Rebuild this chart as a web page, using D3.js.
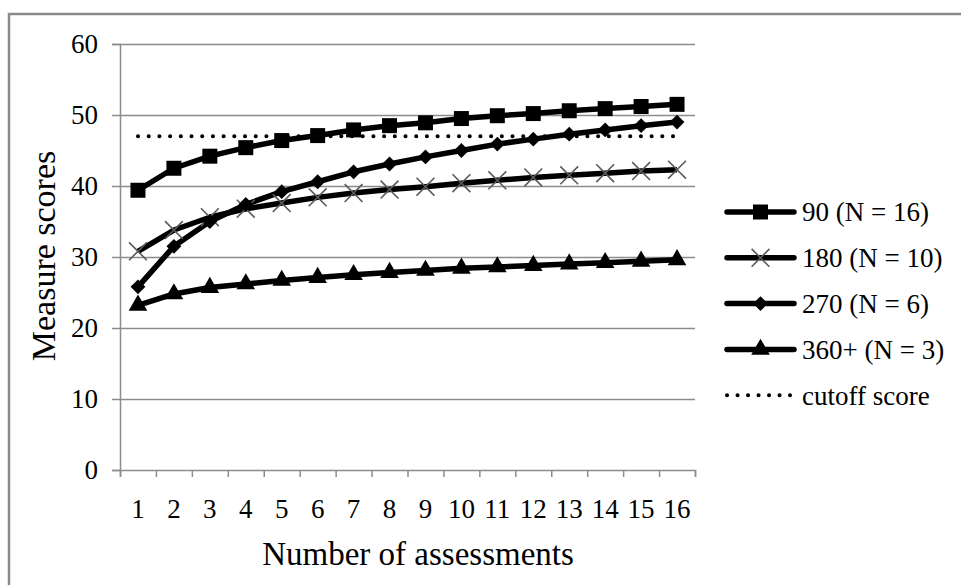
<!DOCTYPE html>
<html>
<head>
<meta charset="utf-8">
<script src="https://cdn.jsdelivr.net/npm/d3@7"></script>
<style>
  html, body { margin: 0; padding: 0; background: #fff; }
  svg { display: block; }
  text { font-family: "Liberation Serif", "Times New Roman", serif; fill: #000; }
</style>
</head>
<body>
<svg id="chart" width="961" height="585"></svg>
<script>
// ---- data ----
const categories = ["1","2","3","4","5","6","7","8","9","10","11","12","13","14","15","16"];
const s90   = [39.4, 42.5, 44.2, 45.4, 46.4, 47.1, 47.9, 48.5, 48.9, 49.5, 49.9, 50.2, 50.6, 50.9, 51.2, 51.5];
const s180  = [30.8, 33.8, 35.6, 36.8, 37.6, 38.4, 39.0, 39.5, 39.9, 40.4, 40.8, 41.2, 41.5, 41.8, 42.1, 42.3];
const s270  = [25.8, 31.5, 35.0, 37.4, 39.2, 40.6, 42.0, 43.1, 44.1, 45.0, 45.9, 46.6, 47.3, 47.9, 48.5, 49.0];
const s360  = [23.2, 24.8, 25.7, 26.2, 26.7, 27.1, 27.5, 27.8, 28.1, 28.4, 28.6, 28.8, 29.0, 29.2, 29.4, 29.6];
const cutoff = [47, 47, 47, 47, 47, 47, 47, 47, 47, 47, 47, 47, 47, 47, 47, 47];
const seriesNames = ["90 (N = 16)", "180 (N = 10)", "270 (N = 6)", "360+ (N = 3)", "cutoff score"];
const yTicks = [0, 10, 20, 30, 40, 50, 60];
const xTitle = "Number of assessments";
const yTitle = "Measure scores";

// ---- layout ----
const svg = d3.select("#chart");
const pL = 120, pR = 695, pT = 44, pB = 470;
const gridColor = "#8c8c8c";
const serif = "'Liberation Serif', 'Times New Roman', serif";

// outer frame
svg.append("rect").attr("x", 9).attr("y", 14).attr("width", 1000).attr("height", 700)
  .attr("fill", "none").attr("stroke", "#8a8a8a").attr("stroke-width", 2.5);

const x = d3.scaleBand().domain(categories).range([pL, pR]).padding(0);
const xEdge = d3.scaleLinear().domain([0, categories.length]).range([pL, pR]);
const y = d3.scaleLinear().domain([0, 60]).range([pB, pT]);

// gridlines
const grid = svg.append("g").attr("transform", `translate(${pL},0)`)
  .call(d3.axisLeft(y).tickValues(yTicks.filter(v => v > 0)).tickSize(-(pR - pL)).tickFormat(""));
grid.select(".domain").remove();
grid.selectAll("line").attr("stroke", gridColor).attr("stroke-width", 1.5);

// y axis
const yAx = svg.append("g").attr("transform", `translate(${pL},0)`)
  .call(d3.axisLeft(y).tickValues(yTicks).tickSize(8).tickPadding(14));
yAx.attr("font-family", serif);
yAx.select(".domain").attr("stroke", gridColor).attr("stroke-width", 1.5);
yAx.selectAll("line").attr("stroke", gridColor).attr("stroke-width", 1.5);
yAx.selectAll("text").attr("font-size", 27).attr("fill", "#000");

// x axis: tick marks at band edges
const xTickAx = svg.append("g").attr("transform", `translate(0,${pB})`)
  .call(d3.axisBottom(xEdge).ticks(categories.length).tickSize(7).tickFormat(""));
xTickAx.select(".domain").attr("stroke", gridColor).attr("stroke-width", 1.5);
xTickAx.selectAll("line").attr("stroke", gridColor).attr("stroke-width", 1.5);

// x labels via band axis
const xLab = svg.append("g").attr("transform", `translate(0,${pB})`)
  .call(d3.axisBottom(x).tickSize(0).tickPadding(29));
xLab.attr("font-family", serif);
xLab.select(".domain").remove();
xLab.selectAll("text").attr("font-size", 27).attr("fill", "#000");

// axis titles
svg.append("text").attr("x", 418).attr("y", 565)
  .attr("text-anchor", "middle").attr("font-size", 33).text(xTitle);
svg.append("text").attr("transform", `translate(55,256) rotate(-90)`)
  .attr("text-anchor", "middle").attr("font-size", 34).text(yTitle);

// ---- series ----
const px = (d, i) => x(categories[i]) + x.bandwidth() / 2;
const line = d3.line().x(px).y(d => y(d));

const sym = {
  square: d3.symbol().type(d3.symbolSquare).size(225),
  triangle: d3.symbol().type(d3.symbolTriangle).size(150),
  cross: d3.symbol().type(d3.symbolX).size(210)
};

const series = [
  { vals: s90, marker: "square" },
  { vals: s180, marker: "cross" },
  { vals: s270, marker: "diamond" },
  { vals: s360, marker: "triangle" }
];

// cutoff dotted line
svg.append("path").datum(cutoff).attr("d", line)
  .attr("fill", "none").attr("stroke", "#000").attr("stroke-width", 4)
  .attr("stroke-linecap", "round").attr("stroke-dasharray", "0.1 10.6");

function drawMarker(g, type, cx, cy) {
  if (type === "cross") {
    g.append("path").attr("d", sym.cross()).attr("transform", `translate(${cx},${cy})`)
      .attr("fill", "none").attr("stroke", "#5a5a5a").attr("stroke-width", 1.6);
  } else if (type === "diamond") {
    g.append("path").attr("d", d3.symbol().type(d3.symbolSquare).size(110)())
      .attr("transform", `translate(${cx},${cy}) rotate(45)`).attr("fill", "#000");
  } else {
    g.append("path").attr("d", sym[type]()).attr("transform", `translate(${cx},${cy})`).attr("fill", "#000");
  }
}

series.forEach(s => {
  svg.append("path").datum(s.vals).attr("d", line)
    .attr("fill", "none").attr("stroke", "#000").attr("stroke-width", 5.5).attr("stroke-linejoin", "round");
});
series.forEach(s => {
  const g = svg.append("g");
  s.vals.forEach((v, i) => drawMarker(g, s.marker, px(v, i), y(v)));
});

// ---- legend ----
const legY0 = 212, legDy = 45.8, lx0 = 727, lx1 = 794;
seriesNames.forEach((name, i) => {
  const cy = legY0 + i * legDy;
  const g = svg.append("g");
  if (i < 4) {
    g.append("line").attr("x1", lx0).attr("x2", lx1).attr("y1", cy).attr("y2", cy)
      .attr("stroke", "#000").attr("stroke-width", 5.5).attr("stroke-linecap", "round");
    drawMarker(g, series[i].marker, (lx0 + lx1) / 2, cy);
  } else {
    g.append("line").attr("x1", lx0).attr("x2", lx1 - 4).attr("y1", cy).attr("y2", cy)
      .attr("stroke", "#000").attr("stroke-width", 4).attr("stroke-linecap", "round")
      .attr("stroke-dasharray", "0.1 10.4");
  }
  g.append("text").attr("x", 802).attr("y", cy).attr("dy", "0.35em")
    .attr("font-size", 27).text(name);
});
</script>
</body>
</html>
